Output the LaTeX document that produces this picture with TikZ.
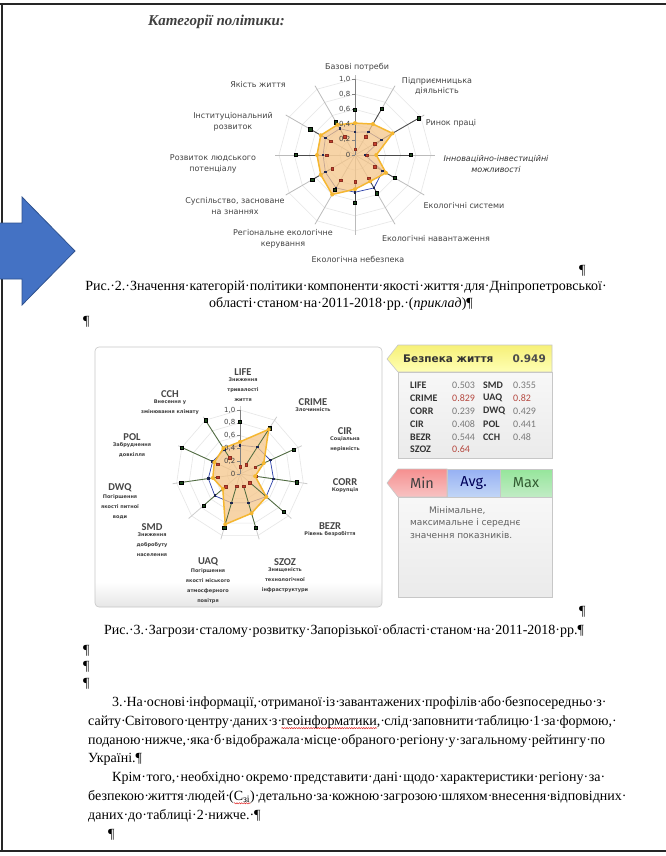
\documentclass[tikz,border=0pt]{standalone}
\usepackage{fontspec}
\setmainfont{Liberation Serif}
\newfontfamily\chartfont{DejaVu Sans}
\newfontfamily\codefont{Carlito}
\newfontfamily\boxfont{Fira Sans}
\usetikzlibrary{positioning,decorations.pathmorphing}

\definecolor{arrowblue}{HTML}{4472C4}
\definecolor{arrowedge}{HTML}{2F528F}
\definecolor{ringgray}{HTML}{E6E6E6}
\definecolor{spokegray}{HTML}{BBBBBB}
\definecolor{labgray}{HTML}{444444}
\definecolor{regorange}{HTML}{F5C68A}
\definecolor{reggold}{HTML}{F5B731}
\definecolor{avgblue}{HTML}{2B3FA8}
\definecolor{avgnavy}{HTML}{1C2550}
\definecolor{rangegreen}{HTML}{4E6B3E}
\definecolor{maxgreen}{HTML}{1D4A1D}
\definecolor{minred}{HTML}{C8412E}
\definecolor{valgray}{HTML}{7A7A7A}
\definecolor{valred}{HTML}{B5483F}
\definecolor{hdrtop}{HTML}{F6F078}
\definecolor{hdrbot}{HTML}{FFFFB4}
\definecolor{minpink}{HTML}{F4A9A9}
\definecolor{avglight}{HTML}{A7C4F2}
\definecolor{maxlight}{HTML}{A6E3AC}
\definecolor{squigred}{HTML}{E02020}

\tikzset{
  pageedge/.style={draw=black!85,line width=2.6pt},
  bigarrow/.style={fill=arrowblue,draw=arrowedge,line width=0.8pt,line join=miter},
  ring/.style={draw=ringgray,line width=0.6pt},
  spoke/.style={draw=spokegray,line width=0.8pt},
  tickaxis/.style={draw=black!50,line width=0.6pt},
  ticklabel/.style={font=\chartfont\fontsize{7}{8}\selectfont,text=labgray,inner sep=0.5pt,anchor=east},
  avgline/.style={draw=avgblue,line width=0.7pt},
  rangeline/.style={draw=rangegreen,line width=0.8pt},
  regarea/.style={fill=regorange,fill opacity=0.75},
  regline/.style={draw=reggold,line width=1.5pt,line join=round},
  minmark/.style={rectangle,inner sep=0pt,minimum size=2.6pt,fill=minred,draw=minred!70!black,line width=0.2pt},
  maxmark/.style={rectangle,inner sep=0pt,minimum size=3.2pt,fill=maxgreen,draw=black,line width=0.3pt},
  avgmark/.style={rectangle,inner sep=0pt,minimum size=2.6pt,fill=avgnavy},
  regmark/.style={circle,inner sep=0pt,minimum size=4pt,fill=reggold},
  catlabel/.style={font=\chartfont\fontsize{8}{10.8}\selectfont,text=labgray,align=center,inner sep=0pt},
  codelabel/.style={font=\codefont\bfseries\fontsize{10.5}{12}\selectfont,text=black!72,inner sep=0pt},
  desclabel/.style={font=\chartfont\bfseries\fontsize{5}{10}\selectfont,text=black!75,align=center,inner sep=0pt},
  panel/.style={draw=black!22,line width=0.6pt},
  tabname/.style={font=\codefont\bfseries\fontsize{10}{11}\selectfont,text=black!80,inner sep=0pt,anchor=west},
  tabval/.style={font=\codefont\fontsize{10}{11}\selectfont,inner sep=0pt,anchor=west},
  mmtext/.style={font=\boxfont\fontsize{14.5}{16}\selectfont,inner sep=0pt},
  bodytext/.style={font=\fontsize{14}{19}\selectfont,inner sep=0pt,anchor=base west},
  captext/.style={font=\fontsize{14}{17}\selectfont,inner sep=0pt,anchor=base}
}

\newsavebox{\squigbox}
\newcommand{\squig}[1]{\sbox{\squigbox}{#1}\rlap{\tikz[x=1pt,y=1pt,baseline=0pt]\draw[squigred,line width=0.45pt,decorate,decoration={zigzag,amplitude=0.6pt,segment length=2.4pt}] (0,-2.8) -- (\the\wd\squigbox,-2.8);}\usebox{\squigbox}}
\newcommand{\jline}[2]{\hbox to #1{\spaceskip=0pt plus 1fil minus 0.8pt\relax\xspaceskip=\spaceskip\relax #2}}

\begin{document}
\begin{tikzpicture}[x=1pt,y=-1pt]
\useasboundingbox (0,0) rectangle (666,856);
\fill[white] (0,0) rectangle (666,856);

% page edges and the arrow
\draw[pageedge] (0,4) -- (666,4);
\draw[pageedge] (2,4) -- (2,851);
\draw[pageedge] (0,851) -- (666,851);
\draw[bigarrow] (-2,223) -- (22,223) -- (22,197) -- (75,251) -- (22,305) -- (22,279) -- (-2,279) -- cycle;

% first chart
\node[font=\bfseries\itshape\fontsize{15}{17}\selectfont,text=black!75,anchor=west,inner sep=0pt] (title) at (148,22) {Категорії політики:};

\begin{scope}[shift={(355,155)}]
  \foreach \r in {15.2,30.4,45.6,60.8,76}
    \draw[ring] (-90:\r) \foreach \i in {1,...,11}{ -- ({-90+30*\i}:\r)} -- cycle;
  \foreach \i in {0,...,11}
    \draw[spoke] (0,0) -- ({-90+30*\i}:80);
  \foreach \lo/\av/\hi/\me [count=\i from 0] in {
      0.08/0.30/0.60/0.42, 0.28/0.35/0.70/0.47, 0.30/0.40/0.97/0.57,
      0.15/0.13/0.73/0.28, 0.30/0.42/0.60/0.47, 0.35/0.50/0.58/0.40,
      0.35/0.49/0.63/0.45, 0.38/0.50/0.53/0.60, 0.35/0.45/0.65/0.52,
      0.37/0.42/0.78/0.50, 0.37/0.45/0.68/0.52, 0.28/0.40/0.50/0.46}{
    \coordinate (pa\i) at ({-90+30*\i}:{76*\lo});
    \coordinate (pb\i) at ({-90+30*\i}:{76*\av});
    \coordinate (pc\i) at ({-90+30*\i}:{76*\hi});
    \coordinate (pd\i) at ({-90+30*\i}:{76*\me});
  }
  \draw[avgline] (pb0) \foreach \i in {1,...,11}{ -- (pb\i)} -- cycle;
  \foreach \i in {0,...,11}
    \draw[rangeline,draw=black!70] (pa\i) -- (pc\i);
  \fill[regarea] (pd0) \foreach \i in {1,...,11}{ -- (pd\i)} -- cycle;
  \draw[regline] (pd0) \foreach \i in {1,...,11}{ -- (pd\i)} -- cycle;
  \draw[tickaxis] (0,0) -- (0,-76);
  \foreach \t/\l [count=\k] in {0/0,15.2/{0,2},30.4/{0,4},45.6/{0,6},60.8/{0,8},76/{1,0}}{
    \draw[tickaxis] (-3,-\t) -- (0,-\t);
    \node[ticklabel] (pt\k) at (-4,-\t) {\l};
  }
  \foreach \i in {0,...,11}{
    \node[minmark] (pmn\i) at (pa\i) {};
    \node[avgmark] (pav\i) at (pb\i) {};
    \node[maxmark] (pmx\i) at (pc\i) {};
    \node[regmark] (prg\i) at (pd\i) {};
  }
\end{scope}

\node[catlabel] (bazovi) at (357,67) {Базові потреби};
\node[catlabel] (pidpr) at (437,86) {Підприємницька\\діяльність};
\node[catlabel] (rynok) at (451,123) {Ринок праці};
\node[catlabel,font=\chartfont\itshape\fontsize{8}{10.8}\selectfont,text=black!80] (innov) at (496,164) {Інноваційно-інвестиційні\\можливості};
\node[catlabel] (ekosys) at (464,206) {Екологічні системи};
\node[catlabel] (ekonav) at (436,239) {Екологічні навантаження};
\node[catlabel] (ekoneb) at (358,259) {Екологічна небезпека};
\node[catlabel] (regeko) at (283,239) {Регіональне екологічне\\керування};
\node[catlabel] (suspil) at (235,206) {Суспільство, засноване\\на знаннях};
\node[catlabel] (rozvyt) at (213,164) {Розвиток людського\\потенціалу};
\node[catlabel] (instyt) at (233,122) {Інституціональний\\розвиток};
\node[catlabel] (yakist) at (258,85) {Якість життя};

% captions after the first chart
\node[bodytext] (pil1) at (579,274.5) {¶};
\node[captext] (cap1a) at (346,290.5) {Рис.·2.·Значення·категорій·політики·компоненти·якості·життя·для·Дніпропетровської·};
\node[captext] (cap1b) at (341,307.5) {області·станом·на·2011-2018·рр.·(\textit{приклад})¶};
\node[bodytext] (pil2) at (83,325.5) {¶};

% second chart panel
\begin{scope}
  \clip[rounded corners=4pt] (95,347) rectangle (382,607);
  \fill[white] (95,347) rectangle (382,607);
  \shade[top color=white,bottom color=black!10] (95,582) rectangle (382,607);
\end{scope}
\draw[panel,rounded corners=4pt] (95,347) rectangle (382,607);

\begin{scope}[shift={(240,474)}]
  \foreach \r in {12.8,25.6,38.4,51.2,64}
    \draw[ring] (-90:\r) \foreach \i in {1,...,10}{ -- ({-90+360/11*\i}:\r)} -- cycle;
  \foreach \i in {0,...,10}
    \draw[spoke,draw=black!20] (0,0) -- ({-90+360/11*\i}:68);
  \foreach \lo/\av/\hi/\me [count=\i from 0] in {
      0.12/0.45/0.82/0.503, 0.18/0.50/0.85/0.829, 0.26/0.52/0.92/0.408,
      0.25/0.53/0.90/0.239, 0.20/0.54/0.90/0.544, 0.20/0.47/0.88/0.64,
      0.20/0.47/0.88/0.82, 0.30/0.52/0.75/0.355, 0.35/0.50/0.93/0.429,
      0.38/0.47/1.00/0.441, 0.30/0.45/1.00/0.48}{
    \coordinate (qa\i) at ({-90+360/11*\i}:{64*\lo});
    \coordinate (qb\i) at ({-90+360/11*\i}:{64*\av});
    \coordinate (qc\i) at ({-90+360/11*\i}:{64*\hi});
    \coordinate (qd\i) at ({-90+360/11*\i}:{64*\me});
  }
  \draw[avgline] (qb0) \foreach \i in {1,...,10}{ -- (qb\i)} -- cycle;
  \fill[regarea] (qd0) \foreach \i in {1,...,10}{ -- (qd\i)} -- cycle;
  \draw[regline] (qd0) \foreach \i in {1,...,10}{ -- (qd\i)} -- cycle;
  \foreach \i in {0,...,10}
    \draw[rangeline] (qa\i) -- (qc\i);
  \draw[tickaxis] (0,0) -- (0,-64);
  \foreach \t/\l [count=\k] in {0/0,12.8/{0,2},25.6/{0,4},38.4/{0,6},51.2/{0,8},64/{1,0}}{
    \draw[tickaxis] (-3,-\t) -- (0,-\t);
    \node[ticklabel] (qt\k) at (-4,-\t) {\l};
  }
  \foreach \i in {0,...,10}{
    \node[minmark] (qmn\i) at (qa\i) {};
    \node[avgmark] (qav\i) at (qb\i) {};
    \node[maxmark] (qmx\i) at (qc\i) {};
    \node[regmark] (qrg\i) at (qd\i) {};
  }
\end{scope}

\node[codelabel] (life) at (243,372) {LIFE};
\node[desclabel,below=2pt of life] (lifed) {Зниження\\тривалості\\життя};
\node[codelabel] (crime) at (313,402) {CRIME};
\node[desclabel,below=2pt of crime] (crimed) {Злочинність};
\node[codelabel] (cir) at (345,431) {CIR};
\node[desclabel,below=2pt of cir] (cird) {Соціальна\\нерівність};
\node[codelabel] (corr) at (345,482) {CORR};
\node[desclabel,below=2pt of corr] (corrd) {Корупція};
\node[codelabel] (bezr) at (330,526) {BEZR};
\node[desclabel,below=2pt of bezr] (bezrd) {Рівень безробіття};
\node[codelabel] (szoz) at (285,562) {SZOZ};
\node[desclabel,below=2pt of szoz] (szozd) {Знищеність\\технологічної\\інфраструктури};
\node[codelabel] (uaq) at (208,562) {UAQ};
\node[desclabel,below=2pt of uaq] (uaqd) {Погіршення\\якості міського\\атмосферного\\повітря};
\node[codelabel] (smd) at (152,527) {SMD};
\node[desclabel,below=2pt of smd] (smdd) {Зниження\\добробуту\\населення};
\node[codelabel] (dwq) at (120,488) {DWQ};
\node[desclabel,below=2pt of dwq] (dwqd) {Погіршення\\якості питної\\води};
\node[codelabel] (pol) at (132,437) {POL};
\node[desclabel,below=2pt of pol] (pold) {Забруднення\\довкілля};
\node[codelabel] (cch) at (170,394) {CCH};
\node[desclabel,below=2pt of cch] (cchd) {Внесення у\\змінювання клімату};

% side panels
\path[panel,top color=hdrtop,bottom color=hdrbot] (398,345) -- (552,345) -- (552,372) -- (398,372) -- (387,359) -- cycle;
\node[font=\chartfont\bfseries\fontsize{10.5}{12}\selectfont,text=black!80,anchor=west,inner sep=0pt] (bzname) at (403,359) {Безпека життя};
\node[font=\chartfont\bfseries\fontsize{10.5}{12}\selectfont,text=black!70,anchor=east,inner sep=0pt] (bzval) at (546,359) {0.949};
\path[panel,top color=black!3,bottom color=black!8] (398,372) rectangle (552,458);
\foreach \na/\va/\ca/\nb/\vb/\cb/\y [count=\k] in {
    LIFE/0.503/valgray/SMD/0.355/valgray/385,
    CRIME/0.829/valred/UAQ/0.82/valred/398,
    CORR/0.239/valgray/DWQ/0.429/valgray/411,
    CIR/0.408/valgray/POL/0.441/valgray/424,
    BEZR/0.544/valgray/CCH/0.48/valgray/437}{
  \node[tabname] (ta\k) at (410,\y) {\na};
  \node[tabval,text=\ca] (va\k) at (452,\y) {\va};
  \node[tabname] (tb\k) at (483,\y) {\nb};
  \node[tabval,text=\cb] (vb\k) at (513,\y) {\vb};
}
\node[tabname] (ta6) at (410,449) {SZOZ};
\node[tabval,text=valred] (va6) at (452,449) {0.64};

\path[panel,top color=minpink!85!red,bottom color=minpink!70!white] (398,469) -- (447,469) -- (447,497) -- (398,497) -- (387,483) -- cycle;
\path[panel,top color=avglight!90!blue,bottom color=avglight!70!white] (447,469) rectangle (500,497);
\path[panel,top color=maxlight!90!green,bottom color=maxlight!70!white] (500,469) rectangle (552,497);
\node[mmtext,text=black!75] (mintxt) at (422,483) {Min};
\node[mmtext,text=blue!35!black] (avgtxt) at (473.5,483) {Avg.};
\node[mmtext,text=green!20!black!80] (maxtxt) at (526,483) {Max};
\path[panel,top color=black!3,bottom color=black!8] (398,497) rectangle (552,597);
\node[font=\chartfont\fontsize{9}{12.8}\selectfont,text=black!62,align=left,anchor=north west,inner sep=0pt] (mmnote) at (410,506) {\hspace*{19pt}Мінімальне,\\максимальне і середнє\\значення показників.};

% captions after the second chart
\node[bodytext] (pil3) at (579,615) {¶};
\node[captext] (cap2) at (344,634.5) {Рис.·3.·Загрози·сталому·розвитку·Запорізької·області·станом·на·2011-2018·рр.¶};
\node[bodytext] (pil4) at (83,654) {¶};
\node[bodytext] (pil5) at (83,670.5) {¶};
\node[bodytext] (pil6) at (83,687) {¶};

% body paragraphs
\node[bodytext] (line1) at (112,706.5) {\jline{493pt}{3.· На· основі· інформації,· отриманої· із· завантажених· профілів· або· безпосередньо· з·}};
\node[bodytext] (line2) at (88,725.3) {\jline{517pt}{сайту· Світового· центру· даних· з· \squig{геоінформатики},· слід· заповнити· таблицю· 1· за· формою,·}};
\node[bodytext] (line3) at (88,744.1) {\jline{517pt}{поданою· нижче,· яка· б· відображала· місце· обраного· регіону· у· загальному· рейтингу· по}};
\node[bodytext] (line4) at (88,762.9) {Україні.¶};
\node[bodytext] (line5) at (112,781.7) {\jline{493pt}{Крім· того,· необхідно· окремо· представити· дані· щодо· характеристики· регіону· за·}};
\node[bodytext] (line6) at (88,800.5) {\jline{517pt}{безпекою· життя· людей· (\squig{C\textsubscript{зі}})· детально· за· кожною· загрозою· шляхом· внесення· відповідних·}};
\node[bodytext] (line7) at (88,819.3) {даних·до·таблиці·2·нижче.·¶};
\node[bodytext] (pil7) at (108,838) {¶};
\end{tikzpicture}
\end{document}
